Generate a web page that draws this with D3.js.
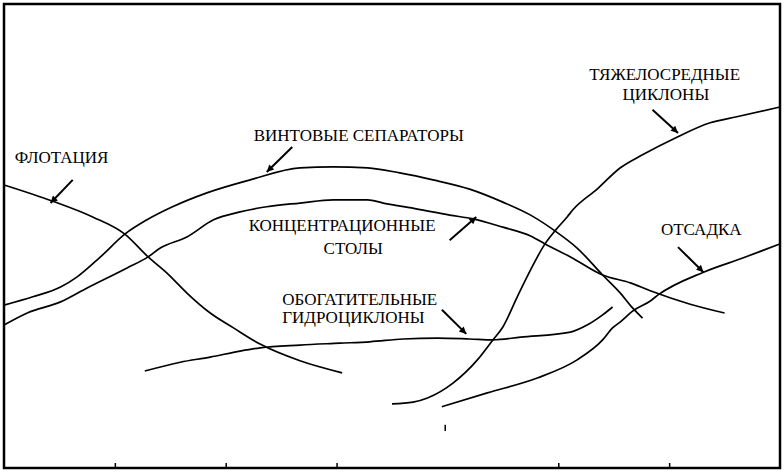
<!DOCTYPE html>
<html><head><meta charset="utf-8">
<script src="https://cdn.jsdelivr.net/npm/d3@7"></script>
<style>html,body{margin:0;padding:0;background:#fff;}svg{display:block;}</style>
</head><body>
<svg id="chart" width="784" height="474"></svg>
<script>
// ---- data (arbitrary units: x 0..7, y 0..10) ----
const flotationX = [0, 0.44, 0.80, 1.09, 1.30, 1.47, 1.65, 1.86, 2.07, 2.31, 2.67, 3.05];
const flotationY = [6.10, 5.75, 5.41, 5.04, 4.55, 4.20, 3.77, 3.34, 3.02, 2.67, 2.31, 2.05];

const screwX = [0, 0.26, 0.51, 0.66, 0.87, 1.09, 1.29, 1.52, 1.83, 2.22, 2.67, 2.97, 3.28, 3.57, 3.87, 4.20, 4.50, 4.75, 4.97, 5.17, 5.40, 5.56, 5.67, 5.76];
const screwY = [3.51, 3.69, 3.90, 4.12, 4.55, 5.04, 5.35, 5.63, 5.93, 6.21, 6.47, 6.49, 6.47, 6.36, 6.21, 6.01, 5.73, 5.45, 5.11, 4.74, 4.16, 3.77, 3.45, 3.23];

const tablesX = [0, 0.21, 0.51, 0.75, 1.11, 1.30, 1.41, 1.65, 1.89, 2.13, 2.37, 2.67, 2.97, 3.28, 3.42, 3.73, 4.02, 4.23, 4.50, 4.75, 4.88, 5.11, 5.40, 5.65, 5.83, 6.19, 6.50];
const tablesY = [3.08, 3.34, 3.58, 3.88, 4.31, 4.55, 4.74, 4.98, 5.35, 5.52, 5.63, 5.71, 5.78, 5.78, 5.71, 5.58, 5.45, 5.37, 5.19, 5.00, 4.83, 4.55, 4.16, 3.99, 3.82, 3.53, 3.34];

const hydroX = [1.27, 1.59, 1.86, 2.13, 2.31, 2.67, 3.03, 3.30, 3.60, 3.91, 4.20, 4.41, 4.66, 5.11, 5.26, 5.40, 5.49];
const hydroY = [2.09, 2.28, 2.39, 2.52, 2.59, 2.65, 2.69, 2.72, 2.78, 2.80, 2.78, 2.76, 2.82, 2.93, 3.08, 3.30, 3.47];

const denseX = [3.50, 3.69, 3.82, 4.05, 4.27, 4.41, 4.50, 4.63, 4.75, 4.88, 4.97, 5.08, 5.13, 5.35, 5.56, 5.76, 6.07, 6.37, 6.61, 7.00];
const denseY = [1.38, 1.42, 1.51, 1.83, 2.33, 2.76, 3.04, 3.69, 4.27, 4.83, 5.11, 5.41, 5.56, 6.01, 6.47, 6.75, 7.13, 7.44, 7.57, 7.78];

const jigX = [3.95, 4.36, 4.81, 5.17, 5.40, 5.49, 5.56, 5.67, 5.83, 5.90, 6.31, 6.67, 7.00];
const jigY = [1.32, 1.62, 1.94, 2.33, 2.76, 3.02, 3.15, 3.38, 3.60, 3.73, 4.22, 4.53, 4.83];

const seriesNames = ["ФЛОТАЦИЯ", "ВИНТОВЫЕ СЕПАРАТОРЫ", "КОНЦЕНТРАЦИОННЫЕ СТОЛЫ", "ОБОГАТИТЕЛЬНЫЕ ГИДРОЦИКЛОНЫ", "ТЯЖЕЛОСРЕДНЫЕ ЦИКЛОНЫ", "ОТСАДКА"];

// label lines: text, x, y (data units), anchor
const labelText = ["ФЛОТАЦИЯ", "ВИНТОВЫЕ СЕПАРАТОРЫ", "КОНЦЕНТРАЦИОННЫЕ", "СТОЛЫ", "ТЯЖЕЛОСРЕДНЫЕ", "ЦИКЛОНЫ", "ОТСАДКА", "ОБОГАТИТЕЛЬНЫЕ", "ГИДРОЦИКЛОНЫ"];
const labelX = [0.52, 3.20, 3.05, 3.15, 5.96, 5.97, 6.29, 2.51, 2.51];
const labelY = [6.57, 7.05, 5.11, 4.61, 8.36, 7.93, 5.02, 3.51, 3.13];
const labelAnchor = ["middle", "middle", "middle", "middle", "middle", "middle", "middle", "start", "start"];

// arrows: from (x0,y0) to tip (x1,y1), data units
const arrowX0 = [0.62, 2.60, 4.02, 5.85, 6.08, 3.95];
const arrowY0 = [6.21, 6.92, 4.91, 7.72, 4.76, 3.41];
const arrowX1 = [0.42, 2.37, 4.26, 6.08, 6.31, 4.17];
const arrowY1 = [5.71, 6.38, 5.41, 7.22, 4.22, 2.89];

// axis ticks (no labels)
const tickValues = [1, 2, 3, 5, 6];
const strayTickX = 3.98;
const strayTickY = [0.80, 0.93];

// ---- drawing ----
const W = 784, H = 474;
const mLeft = 4, mRight = 780, mTop = 4, mBottom = 468;
const svg = d3.select("#chart");
const x = d3.scaleLinear().domain([0, 7]).range([mLeft, mRight]);
const y = d3.scaleLinear().domain([0, 10]).range([mBottom, mBottom - 464]);

svg.append("rect").attr("width", W).attr("height", H).attr("fill", "#fff");

const series = [
  [flotationX, flotationY], [screwX, screwY], [tablesX, tablesY],
  [hydroX, hydroY], [denseX, denseY], [jigX, jigY]
].map(([xs, ys], i) => ({ name: seriesNames[i], pts: xs.map((v, j) => [v, ys[j]]) }));

const line = d3.line().x(d => x(d[0])).y(d => y(d[1])).curve(d3.curveMonotoneX);

svg.append("g").selectAll("path").data(series).join("path")
  .attr("d", d => line(d.pts))
  .attr("fill", "none").attr("stroke", "#000").attr("stroke-width", 1.7);

// axis ticks
const axis = d3.axisBottom(x).tickValues(tickValues).tickSize(-5).tickFormat("");
const ax = svg.append("g").attr("transform", `translate(0,${mBottom})`).call(axis);
ax.select(".domain").remove();
ax.selectAll("line").attr("stroke", "#000").attr("stroke-width", 1.5);

svg.append("line")
  .attr("x1", x(strayTickX)).attr("x2", x(strayTickX))
  .attr("y1", y(strayTickY[0])).attr("y2", y(strayTickY[1]))
  .attr("stroke", "#000").attr("stroke-width", 1.5);

// arrows
const defs = svg.append("defs");
defs.append("marker").attr("id", "ah").attr("viewBox", "0 0 10 10")
  .attr("refX", 10).attr("refY", 5).attr("markerWidth", 10).attr("markerHeight", 7)
  .attr("markerUnits", "userSpaceOnUse").attr("orient", "auto")
  .append("path").attr("d", "M0,0 L10,5 L0,10 Z").attr("fill", "#000");

svg.append("g").selectAll("line").data(arrowX0).join("line")
  .attr("x1", (d, i) => x(arrowX0[i])).attr("y1", (d, i) => y(arrowY0[i]))
  .attr("x2", (d, i) => x(arrowX1[i])).attr("y2", (d, i) => y(arrowY1[i]))
  .attr("stroke", "#000").attr("stroke-width", 2).attr("marker-end", "url(#ah)");

// labels
svg.append("g").selectAll("text").data(labelText).join("text")
  .attr("x", (d, i) => x(labelX[i])).attr("y", (d, i) => y(labelY[i]))
  .attr("text-anchor", (d, i) => labelAnchor[i])
  .attr("font-family", "'Liberation Serif', 'DejaVu Serif', serif")
  .attr("font-size", 17).attr("fill", "#000")
  .text(d => d);

// frame
svg.append("rect").attr("x", mLeft).attr("y", mTop)
  .attr("width", mRight - mLeft).attr("height", mBottom - mTop)
  .attr("fill", "none").attr("stroke", "#000").attr("stroke-width", 2.5);
</script>
</body></html>
